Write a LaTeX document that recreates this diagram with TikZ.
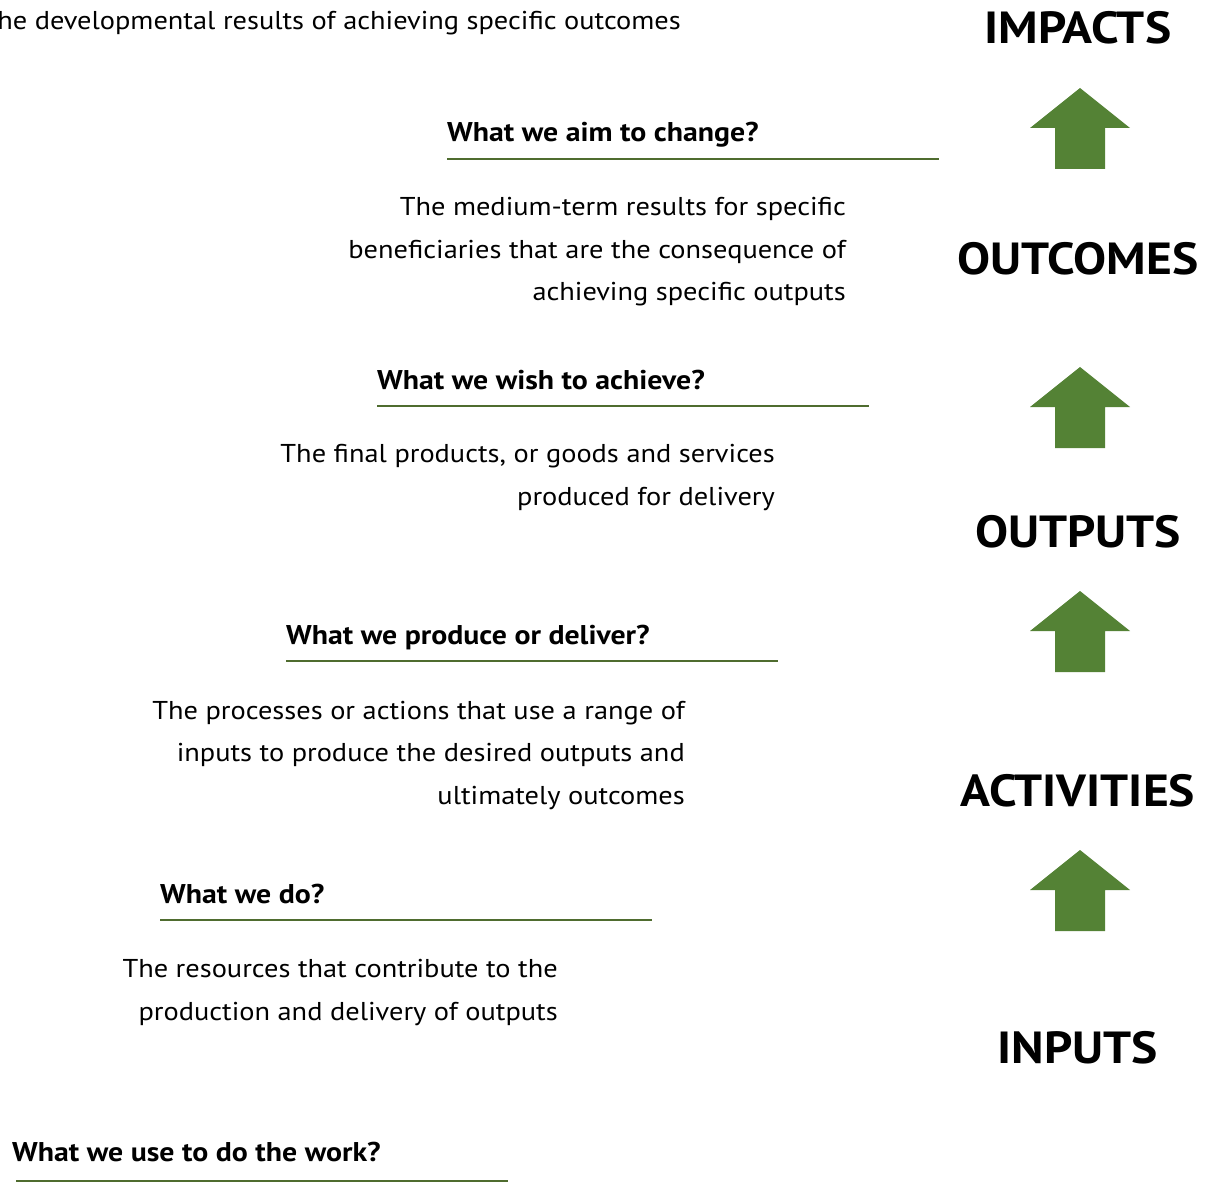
\documentclass[tikz,border=0pt]{standalone}
\usepackage{fontspec}
\setmainfont{PT Sans}[FakeStretch=1.1]
\definecolor{arrowgreen}{HTML}{548235}
\definecolor{rulegreen}{HTML}{4F6C2F}

\begin{document}
\begin{tikzpicture}[x=1pt, y=-1pt,
    level/.style={font=\fontsize{45}{45}\selectfont\bfseries, anchor=base, inner sep=0pt},
    question/.style={font=\fontsize{27.1}{27.1}\selectfont\bfseries, anchor=base west, inner sep=0pt},
    blurb/.style={font=\fontsize{25.8}{42.5}\selectfont, align=right, anchor=base east, inner sep=0pt},
    rulerline/.style={draw=rulegreen, line width=2pt},
    uparrow/.style={fill=arrowgreen, draw=none}]
    \useasboundingbox (0, 0) rectangle (1208, 1182);

    % levels of the chain
    \node[level] (impacts)    at (1078, 44)   {IMPACTS};
    \node[level] (outcomes)   at (1078, 275)  {OUTCOMES};
    \node[level] (outputs)    at (1078, 547)  {OUTPUTS};
    \node[level] (activities) at (1078, 806)  {ACTIVITIES};
    \node[level] (inputs)     at (1078, 1063) {INPUTS};

    % arrows between levels
    \foreach \tip in {88, 367, 591, 850}
        \fill[uparrow] (1080, \tip) -- ++(50, 40) -- ++(-25, 0) -- ++(0, 41)
            -- ++(-50, 0) -- ++(0, -41) -- ++(-25, 0) -- cycle;

    % descriptions (base = last line)
    \node[blurb] (impactstext) at (681, 30) {The developmental results of achieving specific outcomes};
    \node[blurb] (outcomestext) at (846, 301) {The medium-term results for specific\\
        beneficiaries that are the consequence of\\ achieving specific outputs};
    \node[blurb] (outputstext) at (775, 505) {The final products, or goods and services\\
        produced for delivery};
    \node[blurb] (activitiestext) at (685, 804) {The processes or actions that use a range of\\
        inputs to produce the desired outputs and\\ ultimately outcomes};
    \node[blurb] (inputstext) at (558, 1020) {The resources that contribute to the\\
        production and delivery of outputs};

    % questions with their rules
    \node[question] (askimpacts) at (447, 142) {What we aim to change?};
    \draw[rulerline] (447, 159) -- ++(492, 0);
    \node[question] (askoutcomes) at (377, 389) {What we wish to achieve?};
    \draw[rulerline] (377, 406) -- ++(492, 0);
    \node[question] (askoutputs) at (286, 644) {What we produce or deliver?};
    \draw[rulerline] (286, 661) -- ++(492, 0);
    \node[question] (askactivities) at (160, 903) {What we do?};
    \draw[rulerline] (160, 920) -- ++(492, 0);
    \node[question] (askinputs) at (12, 1161) {What we use to do the work?};
    \draw[rulerline] (16, 1181) -- ++(492, 0);
\end{tikzpicture}
\end{document}
